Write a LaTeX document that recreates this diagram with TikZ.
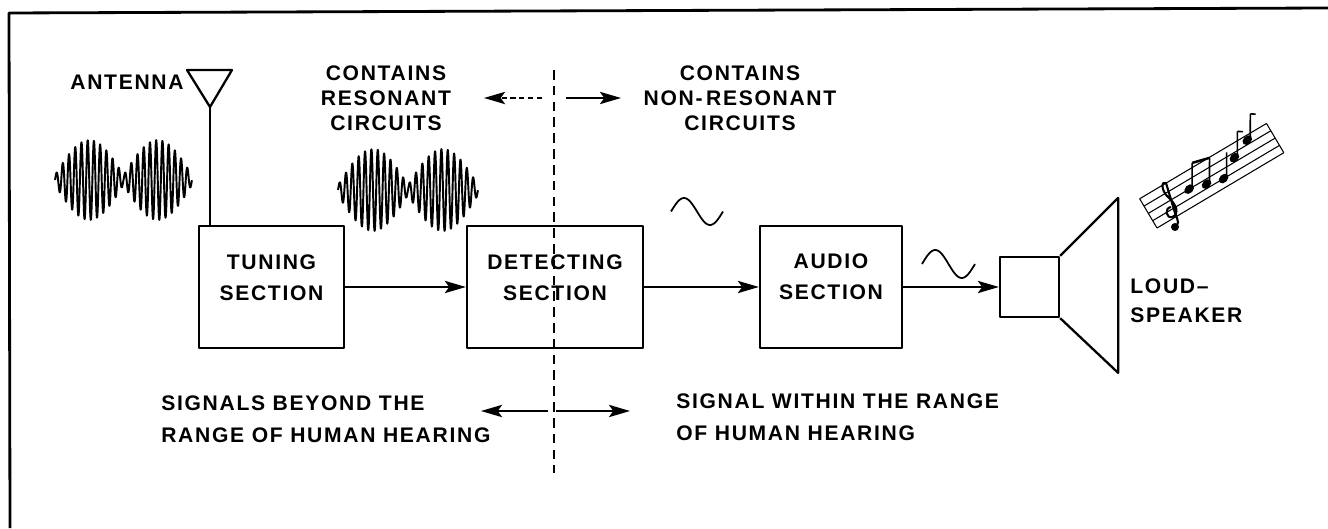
\documentclass[tikz,border=0pt]{standalone}
\usepackage{fontspec}
\newfontfamily\lettering[LetterSpace=8.0]{Liberation Sans}
\usetikzlibrary{arrows.meta, positioning, calc}

\tikzset{
  block/.style={draw, line width=1.3pt, minimum width=#1, minimum height=2.44cm, inner sep=0pt},
  caption/.style={font=\lettering\bfseries\fontsize{12}{17.6}\selectfont, align=center, inner sep=0pt},
  flow/.style={->, line width=1pt},
}

\begin{document}
\begin{tikzpicture}[>={Stealth[length=12pt, width=7pt, inset=2.5pt]}, line join=round]
  \useasboundingbox (0,0) rectangle (26.56,10.56);

  % page frame, left and top edge
  \draw[line width=1.6pt] (0.20,0) -- (0.18,10.30) -- (26.56,10.40);

  % signal chain
  \node[block=2.90cm] (tuning) at (5.43,4.82) {};
  \node[block=3.52cm] (detect) at (11.10,4.82) {};
  \node[block=2.84cm] (audio)  at (16.62,4.82) {};
  \node[draw, line width=1.3pt, minimum width=1.18cm, minimum height=1.20cm, inner sep=0pt] (spk) at (20.59,4.82) {};

  \node[caption] (tuningTxt) at ([yshift=0.19cm]tuning.center) {TUNING\\SECTION};
  \node[caption] (detectTxt) at ([yshift=0.19cm]detect.center) {DETECTING\\SECTION};
  \node[caption] (audioTxt)  at ([yshift=0.21cm]audio.center)  {AUDIO\\SECTION};

  \draw[flow] (tuning) -- (detect);
  \draw[flow] (detect) -- (audio);
  \draw[flow] (audio) -- (spk);

  % speaker cone
  \draw[line width=1.3pt] (spk.north east) -- ++(1.16,1.16) -- ++(0,-3.50) -- (spk.south east);
  \node[caption, align=left, anchor=west, font=\lettering\bfseries\fontsize{12}{16.5}\selectfont]
    (spkTxt) at (22.60,4.55) {LOUD\textendash\\SPEAKER};

  % antenna
  \coordinate (apex) at (4.20,8.42);
  \draw[line width=1.3pt] (3.74,9.16) -- (4.64,9.16) -- (apex) -- cycle;
  \draw[line width=1.3pt] (apex) -- (apex |- tuning.north);
  \node[caption, anchor=east] (antTxt) at (3.68,8.92) {ANTENNA};

  % divider between the two halves
  \coordinate (divTop) at (11.08,9.16);
  \coordinate (divBot) at (11.08,1.10);
  \draw[line width=0.8pt, dash pattern=on 5.5pt off 3.5pt] (divTop) -- (divBot);

  \coordinate (upL0) at (10.84,8.60);  \coordinate (upL1) at (9.68,8.60);
  \coordinate (upR0) at (11.32,8.60);  \coordinate (upR1) at (12.42,8.60);
  \coordinate (dnL0) at (10.96,2.34);  \coordinate (dnL1) at (9.62,2.34);
  \coordinate (dnR0) at (11.12,2.34);  \coordinate (dnR1) at (12.60,2.34);
  \draw[flow, densely dashed] (upL0) -- (upL1);
  \draw[flow] (upR0) -- (upR1);
  \draw[flow] (dnL0) -- (dnL1);
  \draw[flow] (dnR0) -- (dnR1);

  \node[caption, font=\lettering\bfseries\fontsize{12}{14.2}\selectfont]
    (resTxt) at (7.72,8.60) {CONTAINS\\RESONANT\\CIRCUITS};
  \node[caption, font=\lettering\bfseries\fontsize{12}{14.2}\selectfont]
    (nonresTxt) at (14.80,8.60) {CONTAINS\\NON-\,RESONANT\\CIRCUITS};

  \node[caption, align=left, anchor=west, font=\lettering\bfseries\fontsize{12}{18.2}\selectfont]
    (beyondTxt) at (3.22,2.18) {SIGNALS BEYOND THE\\RANGE OF HUMAN HEARING};
  \node[caption, align=left, anchor=west, font=\lettering\bfseries\fontsize{12}{18.2}\selectfont]
    (withinTxt) at (13.52,2.21) {SIGNAL WITHIN THE RANGE\\OF HUMAN HEARING};

  % modulated carrier, before and after tuning
  \foreach \xo/\yo/\w/\a in {1.10/6.96/2.74/0.80, 6.76/6.76/2.80/0.82}
    \draw[line width=1.1pt] plot[domain=0:1, samples=600]
      ({\xo+\w*\x}, {\yo+\a*(0.12+0.88*abs(sin(360*\x)))*sin(22*360*\x)});

  % audio waveforms
  \draw[line width=1pt] plot[domain=0:1, samples=60] ({13.42+1.04*\x}, {6.33+0.27*sin(360*\x)});
  \draw[line width=1pt] plot[domain=0:1, samples=60] ({18.44+1.06*\x}, {5.28+0.28*sin(360*\x)});

  % music staff
  \begin{scope}[shift={(23.14,6.0)}, rotate=30.7, line width=0.6pt]
    \foreach \k in {0,...,4}
      \draw (0,\k*0.17) -- (2.95,\k*0.17);
    \draw (0,0) -- (0,0.68);
    \draw (2.95,0) -- (2.95,0.68);
    \foreach \u/\v in {0.95/0.34, 1.30/0.25, 1.65/0.17, 2.05/0.42, 2.45/0.59} {
      \fill[rotate around={15:(\u,\v)}] (\u,\v) ellipse (0.11 and 0.08);
      \draw[line width=0.9pt] (\u+0.08,\v+0.02) -- ++(0.24,0.40);
    }
    \draw[line width=1.4pt] (1.03+0.24,0.36+0.40) -- (1.38+0.24,0.27+0.40);
    \draw[line width=0.9pt] (2.13+0.24,0.44+0.40) -- ++(0.09,-0.06);
    \draw[line width=0.9pt] (2.53+0.24,0.61+0.40) -- ++(0.09,-0.06);
  \end{scope}
  % treble clef
  \fill (23.50,6.02) circle (0.08);
  \draw[line width=1.2pt] (23.50,6.02) .. controls (23.58,6.10) .. (23.50,6.30) -- (23.32,6.90)
    .. controls (23.22,6.95) and (23.22,6.75) .. (23.36,6.62)
    .. controls (23.55,6.45) and (23.58,6.28) .. (23.45,6.22)
    .. controls (23.32,6.18) and (23.28,6.40) .. (23.42,6.42);
\end{tikzpicture}
\end{document}
